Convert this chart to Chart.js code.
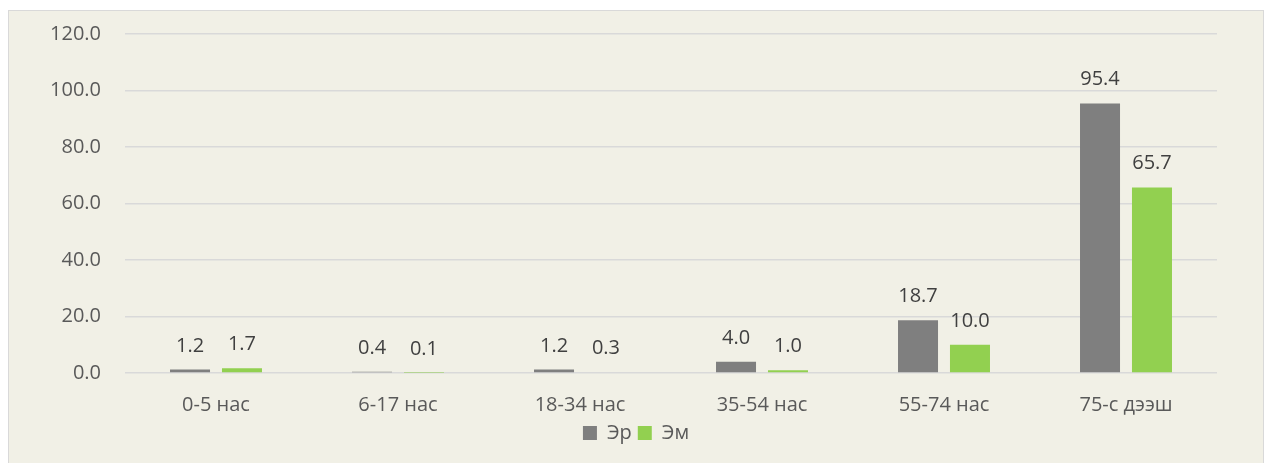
<!DOCTYPE html>
<html>
<head>
<meta charset="utf-8">
<script src="https://cdn.jsdelivr.net/npm/chart.js@4.4.0/dist/chart.umd.min.js"></script>
<style>
  body { margin: 0; background: #ffffff; }
  #marco {
    position: absolute; left: 8px; top: 10px;
    width: 1254px; height: 460px;
    border: 1px solid #d9d9d9; background: #f1f0e6;
  }
  #grafico { display: block; }
</style>
</head>
<body>
<div id="marco"><canvas id="grafico" width="1254" height="446"></canvas></div>
<script>
// Datos
const categorias = ['0-5 нас', '6-17 нас', '18-34 нас', '35-54 нас', '55-74 нас', '75-с дээш'];
const valoresEr = [1.2, 0.4, 1.2, 4.0, 18.7, 95.4];
const valoresEm = [1.7, 0.1, 0.3, 1.0, 10.0, 65.7];
const etiquetasSerie = ['Эр', 'Эм'];

const FUENTE = '"Open Sans", "Noto Sans", sans-serif';

// Etiquetas de valor encima de cada barra
const etiquetasValor = {
  id: 'etiquetasValor',
  afterDatasetsDraw(chart) {
    const ctx = chart.ctx;
    ctx.save();
    ctx.font = '20px ' + FUENTE;
    ctx.fillStyle = '#404040';
    ctx.textAlign = 'center';
    ctx.textBaseline = 'alphabetic';
    chart.data.datasets.forEach((ds, i) => {
      chart.getDatasetMeta(i).data.forEach((barra, j) => {
        ctx.fillText(ds.data[j].toFixed(1), barra.x, barra.y - 18);
      });
    });
    ctx.restore();
  }
};

new Chart(document.getElementById('grafico'), {
  type: 'bar',
  data: {
    labels: categorias,
    datasets: [
      { label: etiquetasSerie[0], data: valoresEr, backgroundColor: '#7f7f7f', barPercentage: 0.77, categoryPercentage: 0.571 },
      { label: etiquetasSerie[1], data: valoresEm, backgroundColor: '#92d050', barPercentage: 0.77, categoryPercentage: 0.571 }
    ]
  },
  options: {
    responsive: false,
    animation: false,
    layout: { padding: { top: 23, right: 0, left: 0, bottom: 4 } },
    plugins: {
      tooltip: { enabled: false },
      legend: {
        position: 'bottom',
        labels: {
          boxWidth: 14, boxHeight: 14, padding: 6,
          color: '#595959',
          font: { family: FUENTE, size: 20 }
        }
      }
    },
    scales: {
      x: {
        afterFit(escala) { escala.height = 44; },
        grid: { display: false, drawTicks: false },
        border: { display: false },
        ticks: { color: '#595959', padding: 20, font: { family: FUENTE, size: 20 } }
      },
      y: {
        min: 0, max: 120,
        afterFit(escala) {
          escala.width = 116;
          escala.paddingTop = 0;
          escala.paddingBottom = 0;
        },
        grid: { color: '#d9d9d9', lineWidth: 1.5, drawTicks: false },
        border: { display: false },
        ticks: {
          stepSize: 20, color: '#595959', padding: 24,
          font: { family: FUENTE, size: 20 },
          callback: v => v.toFixed(1)
        }
      },
      // eje vacío a la derecha, solo para dejar el margen
      margen: {
        position: 'right', min: 0, max: 120,
        afterFit(escala) {
          escala.width = 46;
          escala.paddingTop = 0;
          escala.paddingBottom = 0;
        },
        grid: { display: false, drawTicks: false },
        border: { display: false },
        ticks: { display: false }
      }
    }
  },
  plugins: [etiquetasValor]
});
</script>
</body>
</html>
